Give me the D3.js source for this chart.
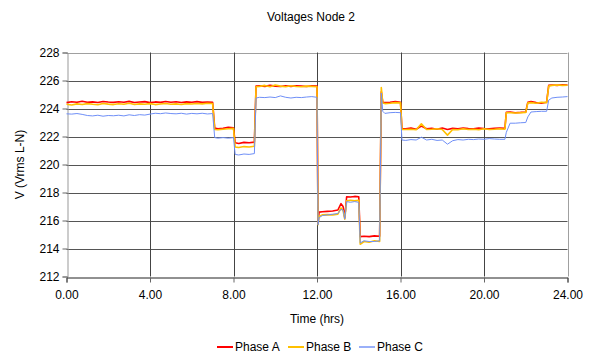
<!DOCTYPE html>
<html>
<head>
<meta charset="utf-8">
<script src="https://cdn.jsdelivr.net/npm/d3@7"></script>
<style>
  body { margin: 0; background: #fff; }
  svg { font-family: "Liberation Sans", Arial, sans-serif; }
</style>
</head>
<body>
<svg width="592" height="356"></svg>
<script>
var hours = [0, 0.25, 0.5, 0.75, 1, 1.25, 1.5, 1.75, 2, 2.25, 2.5, 2.75, 3, 3.25, 3.5, 3.75,
    4, 4.25, 4.5, 4.75, 5, 5.25, 5.5, 5.75, 6, 6.25, 6.5, 6.75, 7,
    7.1, 7.25, 7.5, 7.75, 8,
    8.08, 8.25, 8.5, 8.75, 9,
    9.08, 9.25, 9.5, 9.75, 10, 10.25, 10.5, 10.75, 11, 11.25, 11.5, 11.75, 12,
    12.05, 12.1, 12.25, 12.5, 12.75, 13, 13.15, 13.25, 13.33, 13.42, 13.6, 13.8, 14,
    14.07, 14.25, 14.5, 14.75, 15,
    15.08, 15.15, 15.25, 15.5, 15.75, 16,
    16.07, 16.25, 16.5, 16.75, 17, 17.25, 17.5, 17.75, 18, 18.25, 18.5, 18.75,
    19, 19.25, 19.5, 19.75, 20, 20.25, 20.5, 20.75, 21,
    21.07, 21.25, 21.5, 21.75, 22,
    22.1, 22.25, 22.5, 22.75, 23,
    23.1, 23.25, 23.5, 23.75, 24];

var phaseA = [224.42, 224.48, 224.45, 224.52, 224.44, 224.47, 224.43, 224.50, 224.46, 224.44, 224.48, 224.45, 224.51, 224.43, 224.46, 224.49,
    224.42, 224.47, 224.44, 224.50, 224.45, 224.48, 224.43, 224.47, 224.45, 224.49, 224.44, 224.46, 224.45,
    222.60, 222.55, 222.58, 222.66, 222.62,
    221.55, 221.50, 221.58, 221.55, 221.60,
    225.60, 225.62, 225.58, 225.65, 225.60, 225.57, 225.62, 225.58, 225.63, 225.60, 225.57, 225.62, 225.60,
    215.80, 216.60, 216.62, 216.65, 216.68, 216.75, 217.20, 217.00, 216.20, 217.70, 217.68, 217.72, 217.70,
    214.85, 214.88, 214.85, 214.90, 214.88,
    225.20, 224.45, 224.42, 224.45, 224.50, 224.45,
    222.55, 222.55, 222.60, 222.52, 222.75, 222.55, 222.58, 222.52, 222.60, 222.50, 222.58, 222.55,
    222.60, 222.57, 222.55, 222.60, 222.57, 222.55, 222.58, 222.60, 222.58,
    223.72, 223.75, 223.70, 223.72, 223.75,
    224.45, 224.50, 224.42, 224.38, 224.45,
    225.65, 225.68, 225.65, 225.70, 225.68];

var phaseB = [224.30, 224.25, 224.33, 224.28, 224.35, 224.30, 224.27, 224.36, 224.31, 224.28, 224.34, 224.30, 224.37, 224.29, 224.33, 224.30,
    224.35, 224.28, 224.32, 224.36, 224.30, 224.33, 224.29, 224.35, 224.32, 224.36, 224.33, 224.38, 224.36,
    222.50, 222.48, 222.52, 222.55, 222.58,
    221.25, 221.22, 221.28, 221.25, 221.30,
    225.55, 225.58, 225.65, 225.55, 225.68, 225.60, 225.55, 225.62, 225.57, 225.55, 225.60, 225.58, 225.55,
    215.70, 216.30, 216.40, 216.42, 216.40, 216.45, 216.90, 216.70, 216.10, 217.40, 217.45, 217.40, 217.45,
    214.30, 214.50, 214.45, 214.55, 214.50,
    225.50, 224.40, 224.35, 224.38, 224.42, 224.40,
    222.50, 222.50, 222.52, 222.48, 222.90, 222.50, 222.52, 222.55, 222.50, 222.10, 222.50, 222.48,
    222.55, 222.50, 222.52, 222.48, 222.55, 222.50, 222.52, 222.55, 222.52,
    223.70, 223.70, 223.68, 223.70, 223.72,
    224.40, 224.42, 224.38, 224.45, 224.42,
    225.60, 225.65, 225.68, 225.65, 225.66];

var phaseC = [223.62, 223.60, 223.64, 223.58, 223.50, 223.47, 223.52, 223.45, 223.50, 223.48, 223.52, 223.47, 223.55, 223.50, 223.56, 223.53,
    223.60, 223.66, 223.63, 223.68, 223.64, 223.62, 223.66, 223.60, 223.65, 223.62, 223.66, 223.61, 223.64,
    221.92, 221.88, 221.92, 221.88, 221.92,
    220.72, 220.68, 220.75, 220.72, 220.78,
    224.75, 224.80, 224.78, 224.82, 224.78, 224.90, 224.80, 224.75, 224.80, 224.78, 224.82, 224.85, 224.80,
    215.70, 216.20, 216.35, 216.40, 216.45, 216.50, 216.80, 216.75, 216.10, 217.35, 217.30, 217.35, 217.30,
    214.40, 214.55, 214.50, 214.50, 214.55,
    225.10, 223.80, 223.65, 223.70, 223.72, 223.70,
    221.75, 221.72, 221.78, 221.75, 221.95, 221.75, 221.80, 221.72, 221.75, 221.45, 221.70, 221.78,
    221.75, 221.80, 221.78, 221.82, 221.80, 221.85, 221.82, 221.80, 221.80,
    222.30, 222.95, 222.95, 222.98, 223.00,
    223.40, 223.75, 223.78, 223.80, 223.80,
    224.60, 224.75, 224.80, 224.82, 224.85];

var xTicks = [0, 4, 8, 12, 16, 20, 24];
var yTicks = [212, 214, 216, 218, 220, 222, 224, 226, 228];

var seriesNames = ["Phase A", "Phase B", "Phase C"];
var seriesColors = ["#ff0000", "#ffc000", "#6f8ff7"];
var seriesWidths = [1.6, 1.6, 1];

function drawChart() {
    var svg = d3.select("svg");
    var left = 66.5, right = 567.5, top = 52.5, bottom = 276.5;

    var x = d3.scaleLinear().domain([0, 24]).range([left, right]);
    var y = d3.scaleLinear().domain([212, 228]).range([bottom, top]);

    // title
    svg.append("text")
       .attr("x", 311).attr("y", 21)
       .attr("text-anchor", "middle")
       .attr("font-size", 12)
       .text("Voltages Node 2");

    // horizontal grid
    svg.append("g")
       .selectAll("line")
       .data(yTicks.slice(1))
       .enter().append("line")
       .attr("x1", left).attr("x2", right)
       .attr("y1", function(d) { return Math.round(y(d)) + 0.5; })
       .attr("y2", function(d) { return Math.round(y(d)) + 0.5; })
       .attr("stroke", function(d) { return d == 228 ? "#a0a0a0" : "#555"; })
       .attr("stroke-width", 1);

    // vertical grid
    svg.append("g")
       .selectAll("line")
       .data(xTicks.slice(1))
       .enter().append("line")
       .attr("x1", function(d) { return Math.round(x(d)) + 0.5; })
       .attr("x2", function(d) { return Math.round(x(d)) + 0.5; })
       .attr("y1", top).attr("y2", bottom)
       .attr("stroke", function(d) { return d == 24 ? "#a0a0a0" : "#444"; })
       .attr("stroke-width", 1);

    // y axis
    var yAxis = svg.append("g")
       .attr("transform", "translate(" + Math.round(left) + ".5,0)")
       .call(d3.axisLeft(y).tickValues(yTicks).tickSize(5).tickPadding(3).tickFormat(d3.format("d")));
    yAxis.select(".domain").attr("stroke", "#999");
    yAxis.selectAll(".tick line").attr("stroke", "#666");
    yAxis.selectAll("text").attr("font-size", 12).attr("fill", "#000")
         .attr("font-family", "Liberation Sans, Arial, sans-serif");

    // x axis
    var xAxis = svg.append("g")
       .attr("transform", "translate(0," + (Math.round(bottom) + 0.5) + ")")
       .call(d3.axisBottom(x).tickValues(xTicks).tickSize(5).tickPadding(8).tickFormat(d3.format(".2f")));
    xAxis.select(".domain").attr("stroke", "#222");
    xAxis.selectAll(".tick line").attr("stroke", "#666");
    xAxis.selectAll("text").attr("font-size", 12).attr("fill", "#000")
         .attr("font-family", "Liberation Sans, Arial, sans-serif");

    // axis titles
    svg.append("text")
       .attr("x", (left + right) / 2).attr("y", 323)
       .attr("text-anchor", "middle")
       .attr("font-size", 12)
       .text("Time (hrs)");

    svg.append("text")
       .attr("transform", "translate(24," + ((top + bottom) / 2) + ") rotate(-90)")
       .attr("text-anchor", "middle")
       .attr("font-size", 12)
       .text("V (Vrms L-N)");

    // series
    var allSeries = [phaseA, phaseB, phaseC];
    var line = d3.line()
                 .x(function(d, i) { return x(hours[i]); })
                 .y(function(d) { return y(d); });

    svg.append("g")
       .selectAll("path")
       .data(allSeries)
       .enter().append("path")
       .attr("d", function(d) { return line(d); })
       .attr("fill", "none")
       .attr("stroke", function(d, i) { return seriesColors[i]; })
       .attr("stroke-width", function(d, i) { return seriesWidths[i]; })
       .attr("stroke-linejoin", "round");

    // legend
    var legendX = [217, 288, 359];
    var legend = svg.append("g")
                    .selectAll("g")
                    .data(seriesNames)
                    .enter().append("g")
                    .attr("transform", function(d, i) { return "translate(" + legendX[i] + ",347)"; });

    legend.append("line")
          .attr("x1", 0).attr("x2", 16)
          .attr("y1", 0).attr("y2", 0)
          .attr("stroke", function(d, i) { return seriesColors[i]; })
          .attr("stroke-width", function(d, i) { return seriesWidths[i] + 0.4; });

    legend.append("text")
          .attr("x", 18).attr("y", 4)
          .attr("font-size", 12)
          .text(function(d) { return d; });
}

drawChart();
</script>
</body>
</html>
